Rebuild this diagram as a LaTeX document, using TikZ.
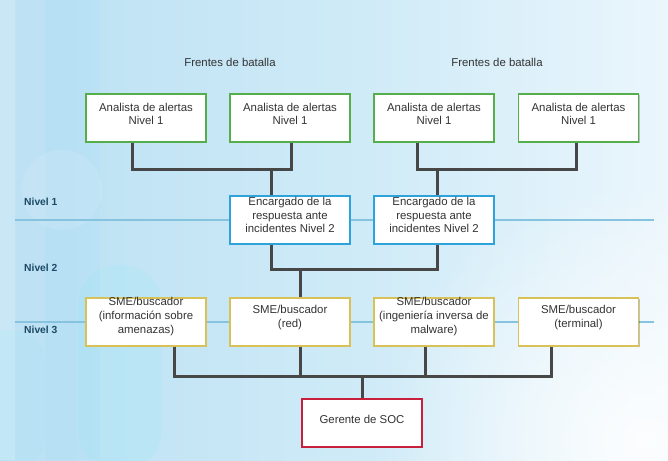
\documentclass[tikz,border=0pt]{standalone}
\usepackage{fontspec}
\setmainfont{Liberation Sans}
\usetikzlibrary{shadows,fadings}
\definecolor{bgA}{HTML}{BEE2F4}
\definecolor{bgB}{HTML}{D2ECF8}
\definecolor{bgC}{HTML}{F7FBFE}
\definecolor{txtc}{HTML}{333333}
\definecolor{connc}{HTML}{474747}
\definecolor{lvlc}{HTML}{86C3DF}
\definecolor{lvltc}{HTML}{1C4A66}
\definecolor{gc}{HTML}{55AE4A}
\definecolor{bc}{HTML}{2DA2DB}
\definecolor{yc}{HTML}{D8C257}
\definecolor{rc}{HTML}{C8203A}
\pgfdeclarehorizontalshading{bgsh}{100bp}{color(0bp)=(bgA); color(30bp)=(bgA); color(55bp)=(bgB); color(85bp)=(bgC); color(100bp)=(white)}
\tikzfading[name=softglow, inner color=transparent!0, outer color=transparent!100]
\tikzset{
  box/.style={draw, line width=1.6pt, fill=white, minimum width=120pt, minimum height=48pt, inner sep=0pt,
    drop shadow={shadow xshift=1pt, shadow yshift=-1.2pt, opacity=0.22, fill=black}},
  gbox/.style={box, draw=gc},
  bbox/.style={box, draw=bc},
  ybox/.style={box, draw=yc},
  rbox/.style={box, draw=rc},
  txt/.style={font=\fontsize{11.4}{13.8}\selectfont, text=txtc, align=center, inner sep=0pt},
  conn/.style={draw=connc, line width=3pt},
  lvl/.style={draw=lvlc, line width=1.5pt},
  lvltxt/.style={font=\fontsize{10.3}{12}\selectfont\bfseries, text=lvltc, anchor=west, inner sep=0pt},
}
\begin{document}
\begin{tikzpicture}[x=1pt,y=-1pt]
\useasboundingbox (0,0) rectangle (668,460);
% background
\shade[shading=bgsh] (0,0) rectangle (668,460);
\fill[white, opacity=0.18] (0,0) rectangle (15,460);
\fill[bgA!70!blue!60!cyan, opacity=0.05] (45,0) rectangle (100,460);
\fill[white, opacity=0.10] (62,190) circle (40);
\fill[bgA!60!cyan, opacity=0.10, rounded corners=40pt] (78,265) rectangle (162,470);
\fill[bgA!60!cyan, opacity=0.08, rounded corners=30pt] (-20,330) rectangle (45,470);
\fill[white, path fading=softglow, opacity=0.85] (640,440) circle (260);
% level lines
\coordinate (l1a) at (15,220);
\coordinate (l1b) at (654,220);
\coordinate (l3a) at (15,322);
\coordinate (l3b) at (654,322);
\draw[lvl] (l1a) -- (l1b);
\draw[lvl] (l3a) -- (l3b);
\node[lvltxt] (n1) at (24,202) {Nivel 1};
\node[lvltxt] (n2) at (24,268) {Nivel 2};
\node[lvltxt] (n3) at (24,330) {Nivel 3};
% headings
\node[txt] (f1) at (230,62) {Frentes de batalla};
\node[txt] (f2) at (497,62) {Frentes de batalla};
% boxes
\node[gbox] (a1) at (146,118) {};
\node[gbox] (a2) at (290,118) {};
\node[gbox] (a3) at (434,118) {};
\node[gbox] (a4) at (578.5,118) {};
\node[bbox] (e1) at (290,220) {};
\node[bbox] (e2) at (434,220) {};
\node[ybox] (s1) at (146,321.7) {};
\node[ybox] (s2) at (290,321.7) {};
\node[ybox] (s3) at (434,321.7) {};
\node[ybox] (s4) at (578.5,321.7) {};
\node[rbox] (g) at (362,423) {};
% texts
\node[txt] (ta1) at ([yshift=4pt]a1.center) {Analista de alertas\\Nivel 1};
\node[txt] (ta2) at ([yshift=4pt]a2.center) {Analista de alertas\\Nivel 1};
\node[txt] (ta3) at ([yshift=4pt]a3.center) {Analista de alertas\\Nivel 1};
\node[txt] (ta4) at ([yshift=4pt]a4.center) {Analista de alertas\\Nivel 1};
\node[txt] (te1) at ([yshift=5pt]e1.center) {Encargado de la\\respuesta ante\\incidentes Nivel 2};
\node[txt] (te2) at ([yshift=5pt]e2.center) {Encargado de la\\respuesta ante\\incidentes Nivel 2};
\node[txt] (ts1) at ([yshift=5pt]s1.center) {SME/buscador\\(información sobre\\amenazas)};
\node[txt] (ts2) at ([yshift=4.5pt]s2.center) {SME/buscador\\(red)};
\node[txt] (ts3) at ([yshift=5pt]s3.center) {SME/buscador\\(ingeniería inversa de\\malware)};
\node[txt] (ts4) at ([yshift=4.5pt]s4.center) {SME/buscador\\(terminal)};
\node[txt] (tg) at ([yshift=3.5pt]g.center) {Gerente de SOC};
% connectors
\coordinate (j1) at (271,169);
\coordinate (j2) at (437,169);
\coordinate (j3) at (300,269);
\coordinate (j4) at (362,376);
\coordinate (k1) at ([xshift=-14pt]a1.south);
\coordinate (k2) at ([xshift=1pt]a2.south);
\coordinate (k3) at ([xshift=-17pt]a3.south);
\coordinate (k4) at ([xshift=-2.5pt]a4.south);
\draw[conn] (k1) |- (j1) -| (k2);
\draw[conn] (j1) -- (j1 |- e1.north);
\draw[conn] (k3) |- (j2) -| (k4);
\draw[conn] (j2) -- (j2 |- e2.north);
\draw[conn] (j1 |- e1.south) |- (j3) -| (j2 |- e2.south);
\draw[conn] (j3) -- (j3 |- s2.north);
\coordinate (m1) at ([xshift=28pt]s1.south);
\coordinate (m2) at (j3 |- s2.south);
\coordinate (m3) at ([xshift=-8.3pt]s3.south);
\coordinate (m4) at ([xshift=-26.8pt]s4.south);
\draw[conn] (m1) |- (j4) -| (m4);
\draw[conn] (m2) -- (m2 |- j4);
\draw[conn] (m3) -- (m3 |- j4);
\draw[conn] (j4) -- (g.north);
\end{tikzpicture}
\end{document}
